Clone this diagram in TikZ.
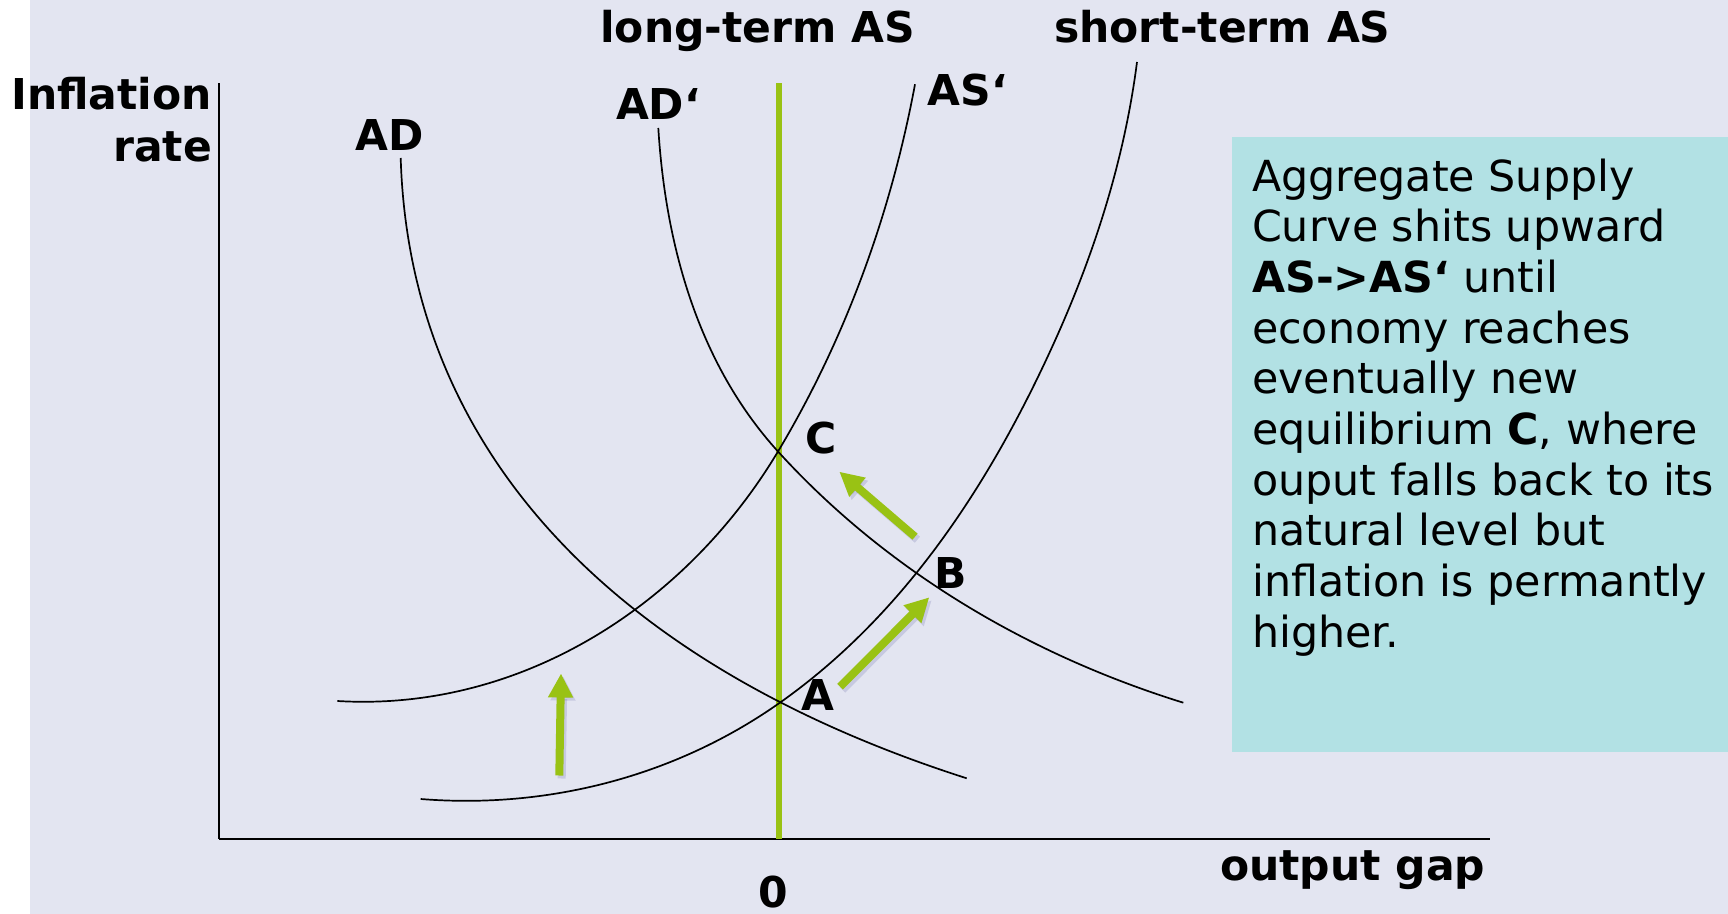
\documentclass[tikz,border=0pt]{standalone}
\usepackage{fontspec}
\setmainfont{DejaVu Sans}
\usetikzlibrary{arrows.meta}
\definecolor{bgcol}{RGB}{227,229,241}
\definecolor{boxcol}{RGB}{178,225,228}
\definecolor{grn}{RGB}{153,194,20}
\begin{document}
\begin{tikzpicture}[x=0.5pt,y=-0.5pt,
  curve/.style={line width=0.85pt, black},
  lbl/.style={font=\fontsize{21.25}{25.85}\selectfont\bfseries, inner sep=0pt},
  garrow/.style={line width=4pt, grn, -{Triangle[width=11.8pt,length=12pt]}},
  gshadow/.style={line width=4pt, black!60!blue, opacity=0.12, -{Triangle[width=11.8pt,length=12pt]}},
  boxtext/.style={font=\fontsize{21.4}{25.35}\selectfont, inner sep=0pt}]
\useasboundingbox (0,0) rectangle (1728,914);
\fill[white] (0,0) rectangle (1728,914);
\fill[bgcol] (30,0) rectangle (1728,914);
% text box
\fill[boxcol] (1231.7,137) rectangle (1728,752);
\node[boxtext, anchor=base west] (txt) at (1251.7,191.1) {\begin{tabular}[t]{@{}l@{}}Aggregate Supply\\Curve shits upward\\\textbf{AS->AS‘} until\\economy reaches\\eventually new\\equilibrium \textbf{C}, where\\ouput falls back to its\\natural level but\\inflation is permantly\\higher.\end{tabular}};
% axes
\coordinate (O) at (219,839);
\coordinate (ytop) at (219,83.3);
\coordinate (xend) at (1489.5,839);
\draw[line width=0.75pt] (ytop) -- (O);
\draw[line width=1.1pt] (O) -- (xend);
% long-term AS
\coordinate (lt1) at (779,83.3);
\coordinate (lt0) at (779,839);
\draw[grn, line width=2.6pt] (lt1) -- (lt0);
% key points of the curves
\coordinate (ptA) at (778,704);
\coordinate (ptC) at (778,451.5);
\coordinate (adtop) at (400.7,158);
\coordinate (adend) at (966.7,778.3);
\coordinate (adptop) at (658.3,128);
\coordinate (adpend) at (1183.3,702.7);
\coordinate (asptop) at (915,84.3);
\coordinate (aspend) at (337.3,701);
\coordinate (astop) at (1137,62);
\coordinate (asmid) at (1053,345);
\coordinate (asend) at (420.7,799);
% AD
\draw[curve] (adtop) .. controls (409.3,446.3) and (607.5,663.2) .. (adend);
% AD'
\draw[curve] (adptop) .. controls (665.5,245.8) and (698.6,364.2) .. (ptC)
  .. controls (886.6,570.9) and (1029.3,655.0) .. (adpend);
% AS'
\draw[curve] (aspend) .. controls (518.6,711.9) and (684.6,607.4) .. (ptC)
  .. controls (845.6,338.6) and (890.8,213.7) .. (asptop);
% AS
\draw[curve] (asend) .. controls (547.2,809.2) and (674.1,776.7) .. (ptA)
  .. controls (903.6,616.1) and (989.5,484.6) .. (asmid)
  .. controls (1094,255) and (1124.4,160.1) .. (astop);
% arrows
\coordinate (u1) at (559.3,775.5); \coordinate (u2) at (561,673.5);
\coordinate (r1) at (840,686.7); \coordinate (r2) at (929.3,597.3);
\coordinate (l1) at (915,536.7); \coordinate (l2) at (839.3,471.7);
\begin{scope}[transform canvas={shift={(1.2pt,-1.5pt)}}]
\draw[gshadow] (u1) -- (u2);
\draw[gshadow] (r1) -- (r2);
\draw[gshadow] (l1) -- (l2);
\end{scope}
\draw[garrow] (u1) -- (u2);
\draw[garrow] (r1) -- (r2);
\draw[garrow] (l1) -- (l2);
% labels
\node[lbl, anchor=base west] (lta) at (600,42.7) {long-term AS};
\node[lbl, anchor=base west] (sta) at (1053.8,42.7) {short-term AS};
\node[lbl, anchor=base east] (infl) at (212.4,110) {Inflation};
\node[lbl, anchor=base east] (rate) at (212.4,161.7) {rate};
\node[lbl, anchor=base] (ad) at (389.5,150.7) {AD};
\node[lbl, anchor=base west] (adp) at (615.6,120) {AD‘};
\node[lbl, anchor=base west] (asp) at (927.5,106) {AS‘};
\node[lbl, anchor=base] (lc) at (821,453.3) {C};
\node[lbl, anchor=base] (lb) at (950.5,588.5) {B};
\node[lbl, anchor=base] (la) at (817.5,710) {A};
\node[lbl, anchor=base east] (og) at (1485.5,880.7) {output gap};
\node[lbl, anchor=base] (zero) at (773,907) {0};
\end{tikzpicture}
\end{document}
